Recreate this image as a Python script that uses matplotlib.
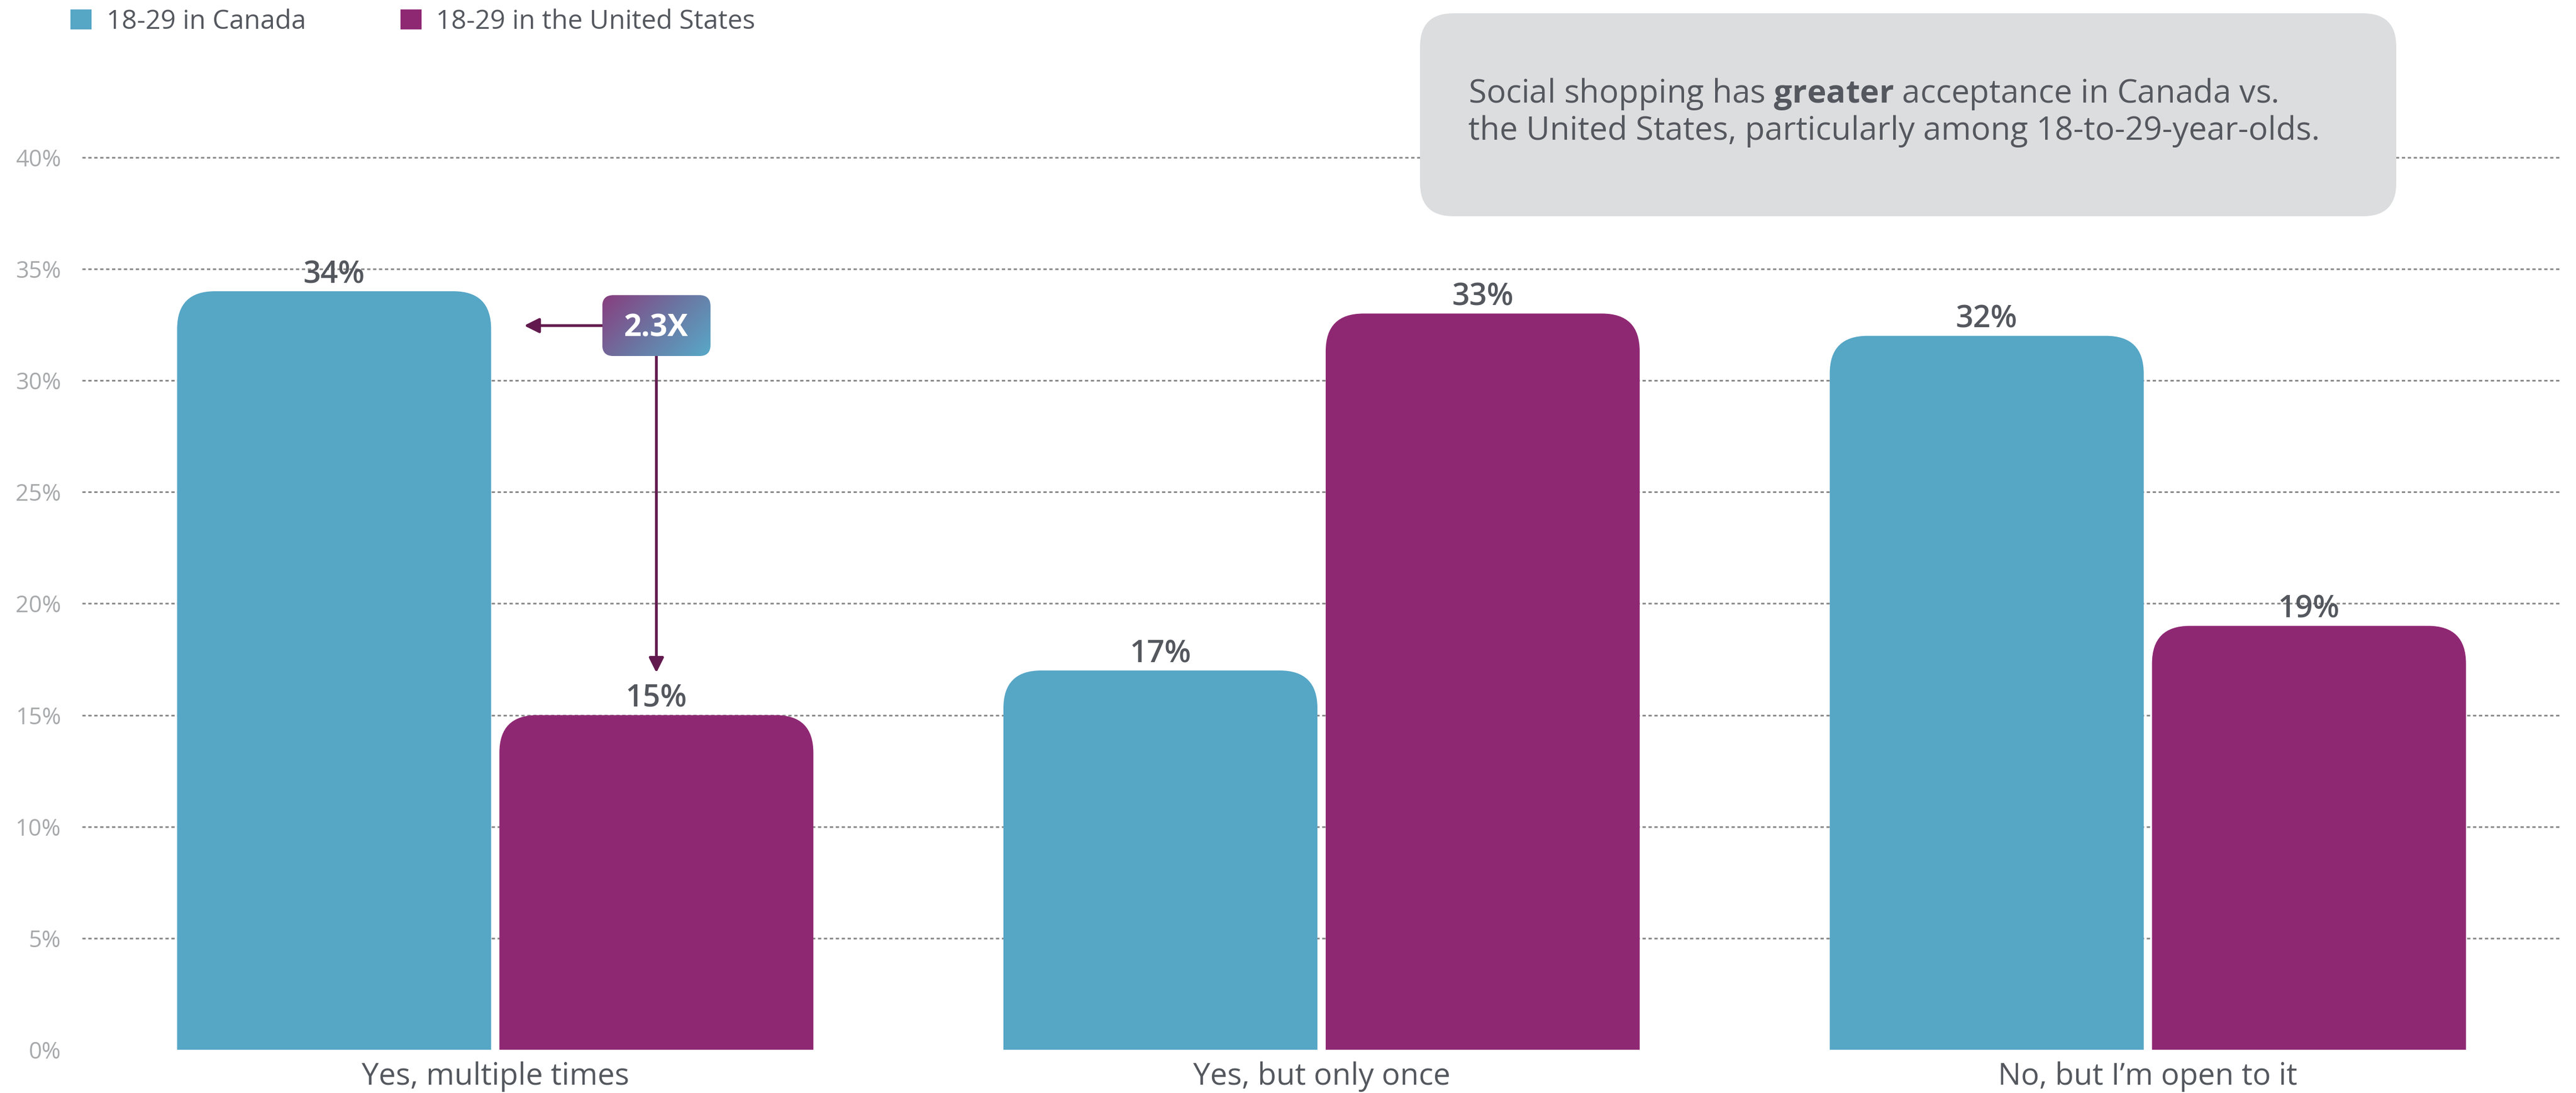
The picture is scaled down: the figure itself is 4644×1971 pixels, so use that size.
import numpy as np
import matplotlib
matplotlib.use("Agg")
import matplotlib.pyplot as plt
from matplotlib.patches import FancyBboxPatch, Patch
from matplotlib.colors import LinearSegmentedColormap

# ---- data -------------------------------------------------------------
categories = ["Yes, multiple times", "Yes, but only once", "No, but I\u2019m open to it"]
series_names = ["18-29 in Canada", "18-29 in the United States"]
canada = [34, 17, 32]
united_states = [15, 33, 19]
yticks = [0, 5, 10, 15, 20, 25, 30, 35, 40]
ytick_labels = [f"{t}%" for t in yticks]
ratio_label = "2.3X"
callout_lines = [
    "Social shopping has $\\mathbf{greater}$ acceptance in Canada vs.",
    "the United States, particularly among 18-to-29-year-olds.",
]

# ---- style ------------------------------------------------------------
FONT = "Open Sans"
plt.rcParams["font.family"] = [FONT, "DejaVu Sans"]
plt.rcParams["mathtext.fontset"] = "custom"
plt.rcParams["mathtext.bf"] = f"{FONT}:bold"
plt.rcParams["mathtext.rm"] = FONT
plt.rcParams["lines.scale_dashes"] = False

TEAL = "#56a6c6"
PLUM = "#8f2873"
DARK = "#54585e"
TICK = "#a7a9ab"
GRID = "#8c8c8c"
ARROW = "#621a4e"
BOX = "#dcdddf"

W, H, DPI = 4644, 1971, 100
fig = plt.figure(figsize=(W / DPI, H / DPI), dpi=DPI)

ax_left_px, ax_right_px = 148, 4617
zero_px, px_per_pct = 1893, 40.23
ymax = 41
top_px = zero_px - ymax * px_per_pct
ax = fig.add_axes([ax_left_px / W, 1 - zero_px / H,
                   (ax_right_px - ax_left_px) / W, (zero_px - top_px) / H])
xlim = (-0.5, len(categories) - 0.5)
ax.set_xlim(*xlim)
ax.set_ylim(0, ymax)
for s in ax.spines.values():
    s.set_visible(False)

# gridlines
ax.set_yticks(yticks, ytick_labels)
ax.grid(axis="y", color=GRID, lw=2.2, linestyle=(0, (4.3, 3.4)))
ax.grid(axis="x", visible=False)
ax.set_axisbelow(True)
ax.yaxis.get_gridlines()[0].set_visible(False)
ax.tick_params(axis="y", length=0, pad=27.4, labelsize=30, labelcolor=TICK)

x = np.arange(len(categories))
ax.set_xticks(x, categories)
ax.tick_params(axis="x", length=0, pad=15, labelsize=39.5, labelcolor=DARK)

# ---- bars with rounded tops -------------------------------------------
width, offset = 0.38, 0.195
bars_ca = ax.bar(x - offset, canada, width, color=TEAL)
bars_us = ax.bar(x + offset, united_states, width, color=PLUM)

ax_w_px = ax_right_px - ax_left_px
ax_h_px = zero_px - top_px
px_x = ax_w_px / (xlim[1] - xlim[0])
px_y = ax_h_px / ymax
aspect = px_x / px_y
radius_px = 68
r_x = radius_px / px_x
r_y = radius_px / px_y

for bars, color, vals in ((bars_ca, TEAL, canada), (bars_us, PLUM, united_states)):
    for rect, val in zip(bars, vals):
        rect.set_visible(False)
        rounded = FancyBboxPatch(
            (rect.get_x(), -2 * r_y), rect.get_width(), rect.get_height() + 2 * r_y,
            boxstyle=f"round,pad=0,rounding_size={r_x}", mutation_aspect=aspect,
            facecolor=color, edgecolor="none", zorder=2)
        ax.add_patch(rounded)
        ax.annotate(f"{val}%", xy=(rect.get_x() + rect.get_width() / 2, val),
                    xytext=(0, 10.8), textcoords="offset points",
                    ha="center", va="baseline", fontsize=40, color=DARK,
                    fontweight="semibold", zorder=5)

# ---- ratio badge with arrows -----------------------------------------
bx = x[0] + offset
by = canada[0] - 1.54
bw, bh = 0.131, 2.73
badge = FancyBboxPatch((bx - bw / 2, by - bh / 2), bw, bh,
                       boxstyle=f"round,pad=0,rounding_size={20 / px_x}",
                       mutation_aspect=aspect, facecolor="none",
                       edgecolor="none", zorder=6)
ax.add_patch(badge)
gx = np.linspace(0, 1, 256)
gy = np.linspace(0, 1, 256)
grad = (gx[None, :] * bw * px_x + gy[:, None] * bh * px_y) / (bw * px_x + bh * px_y)
cmap = LinearSegmentedColormap.from_list("badge", ["#883e7f", "#6b76a2", "#58a9c8"])
img = ax.imshow(grad, cmap=cmap, extent=(bx - bw / 2, bx + bw / 2, by - bh / 2, by + bh / 2),
                origin="upper", aspect="auto", zorder=6, interpolation="bilinear")
img.set_clip_path(badge)
ax.annotate(ratio_label, xy=(bx, by), xytext=(0, -14), textcoords="offset points",
            ha="center", va="baseline", fontsize=40, fontweight="bold",
            color="white", zorder=7)

arrow_props = dict(arrowstyle="-|>", mutation_scale=40, lw=3.6, color=ARROW,
                   shrinkA=0, shrinkB=0)
ax.annotate("", xy=(x[0] - offset + width / 2 + 0.04, by), xytext=(bx - bw / 2, by),
            arrowprops=arrow_props, zorder=5)
ax.annotate("", xy=(bx, united_states[0] + 1.9), xytext=(bx, by - bh / 2),
            arrowprops=arrow_props, zorder=5)
ax.set_xlim(*xlim)
ax.set_ylim(0, ymax)

# ---- legend -----------------------------------------------------------
handles = [Patch(facecolor=TEAL, label=series_names[0]),
           Patch(facecolor=PLUM, label=series_names[1])]
fig.legend(handles=handles, loc="upper left", bbox_to_anchor=(127 / W, 1 - 15 / H),
           ncol=2, frameon=False, fontsize=34.5, handlelength=0.8, handleheight=0.8,
           handletextpad=0.55, columnspacing=3.55, borderpad=0, borderaxespad=0,
           labelcolor=DARK)

# ---- callout box ------------------------------------------------------
inch = fig.dpi_scale_trans
box = FancyBboxPatch((25.60, 15.81), 17.60, 3.66, boxstyle="round,pad=0,rounding_size=0.6",
                     transform=inch, facecolor=BOX, edgecolor="none", zorder=3)
fig.patches.append(box)
for i, line in enumerate(callout_lines):
    fig.text(26.47, 17.86 - 0.67 * i, line, transform=inch, fontsize=42,
             color=DARK, ha="left", va="baseline", zorder=4)

fig.savefig("out.png", dpi=DPI)
